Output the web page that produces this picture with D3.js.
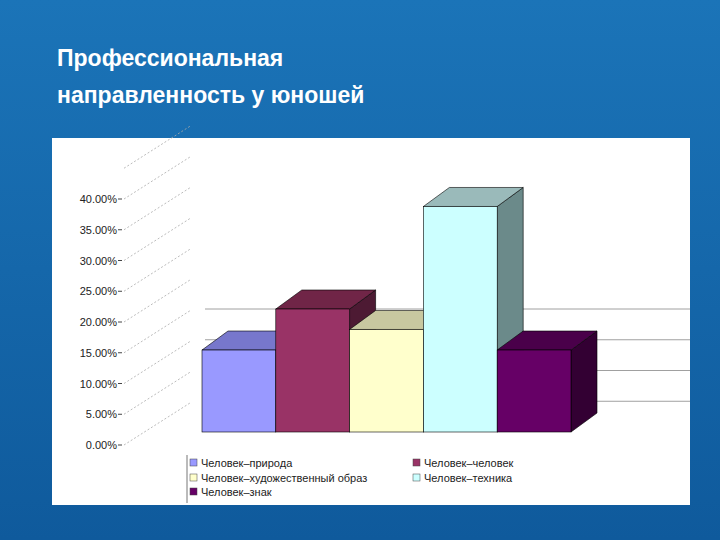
<!DOCTYPE html>
<html><head><meta charset="utf-8">
<script src="https://cdn.jsdelivr.net/npm/d3@7"></script>
<style>body{margin:0;}</style>
</head><body>
<svg id="chart" width="720" height="540"></svg>
<script>
const categories = ["Человек–природа","Человек–человек","Человек–художественный образ","Человек–техника","Человек–знак"];
const values = [13.33, 20.0, 16.67, 36.67, 13.33];
const ticks = [0,5,10,15,20,25,30,35,40];
const fronts = ["#9999ff","#993366","#ffffcc","#ccffff","#660066"];
const tops = ["#7777cc","#702547","#c8c8a0","#9ababa","#4a004a"];
const sides = ["#5a5a99","#4d1a33","#9a9a7a","#6b8a8a","#330033"];

const svg = d3.select("#chart");
const defs = svg.append("defs");
const grad = defs.append("linearGradient").attr("id","bg").attr("x1",0).attr("y1",0).attr("x2",0).attr("y2",1);
grad.append("stop").attr("offset","0%").attr("stop-color","#1b74b8");
grad.append("stop").attr("offset","100%").attr("stop-color","#0f5a9c");
svg.append("rect").attr("width",720).attr("height",540).attr("fill","url(#bg)");

svg.append("text").attr("x",57).attr("y",66).attr("fill","#fff")
  .attr("font-family","Liberation Sans, Arial").attr("font-weight","bold").attr("font-size",23)
  .text("Профессиональная");
svg.append("text").attr("x",57).attr("y",103).attr("fill","#fff")
  .attr("font-family","Liberation Sans, Arial").attr("font-weight","bold").attr("font-size",23)
  .text("направленность у юношей");

// white plot area
svg.append("rect").attr("x",52).attr("y",138).attr("width",638).attr("height",367).attr("fill","#fff");

const depthX = 26, depthY = -19;
const x = d3.scaleBand().domain(categories).range([202,571]).padding(0);
const y = d3.scaleLinear().domain([0,40]).range([432,186]);
const yAxisScale = d3.scaleLinear().domain([0,40]).range([445,199]);

// back wall gridlines
svg.append("g").selectAll("line").data([5,10,15,20]).join("line")
  .attr("x1",205).attr("x2",690).attr("y1",d=>y(d)).attr("y2",d=>y(d))
  .attr("stroke","#888").attr("stroke-width",0.8);

// axis labels and diagonal dashed lines
const ax = svg.append("g");
ax.selectAll("text").data(ticks).join("text")
  .attr("x",117).attr("y",d=>yAxisScale(d)+4).attr("text-anchor","end")
  .attr("font-family","Liberation Sans, Arial").attr("font-size",11).attr("fill","#222")
  .text(d=>d.toFixed(2)+"%");
ax.selectAll("line.t").data(ticks).join("line").attr("class","t")
  .attr("x1",118).attr("x2",122).attr("y1",d=>yAxisScale(d)).attr("y2",d=>yAxisScale(d))
  .attr("stroke","#444");
ax.selectAll("line.d").data(ticks).join("line").attr("class","d")
  .attr("x1",124).attr("x2",190).attr("y1",d=>yAxisScale(d)).attr("y2",d=>yAxisScale(d)-42)
  .attr("stroke","#aaa").attr("stroke-dasharray","2,2").attr("stroke-width",0.8);
ax.append("line").attr("x1",124).attr("x2",190).attr("y1",yAxisScale(45)).attr("y2",yAxisScale(45)-42)
  .attr("stroke","#aaa").attr("stroke-dasharray","2,2").attr("stroke-width",0.8);

// 3D bars
const bars = svg.append("g").selectAll("g").data(values).join("g");
bars.each(function(v,i){
  const g = d3.select(this);
  const x0 = x(categories[i]), x1 = x0 + x.bandwidth(), yt = y(v), yb = y(0);
  g.append("polygon").attr("points",[[x1,yt],[x1+depthX,yt+depthY],[x1+depthX,yb+depthY],[x1,yb]].join(" "))
    .attr("fill",sides[i]).attr("stroke","#000").attr("stroke-width",0.6);
  g.append("polygon").attr("points",[[x0,yt],[x0+depthX,yt+depthY],[x1+depthX,yt+depthY],[x1,yt]].join(" "))
    .attr("fill",tops[i]).attr("stroke","#000").attr("stroke-width",0.6);
  g.append("rect").attr("x",x0).attr("y",yt).attr("width",x.bandwidth()).attr("height",yb-yt)
    .attr("fill",fronts[i]).attr("stroke","#000").attr("stroke-width",0.6);
});

// legend
svg.append("line").attr("x1",187).attr("x2",187).attr("y1",455).attr("y2",503).attr("stroke","#777");
const legPos = [[190,463],[413,463],[190,478],[413,478],[190,492]];
const leg = svg.append("g").selectAll("g").data(categories).join("g")
  .attr("transform",(d,i)=>`translate(${legPos[i][0]},${legPos[i][1]})`);
leg.append("rect").attr("x",0).attr("y",-4).attr("width",7).attr("height",7)
  .attr("fill",(d,i)=>fronts[i]).attr("stroke","#444").attr("stroke-width",0.5);
leg.append("text").attr("x",11).attr("y",4).attr("font-family","Liberation Sans, Arial")
  .attr("font-size",11).attr("fill","#222").text(d=>d);
</script>
</body></html>
